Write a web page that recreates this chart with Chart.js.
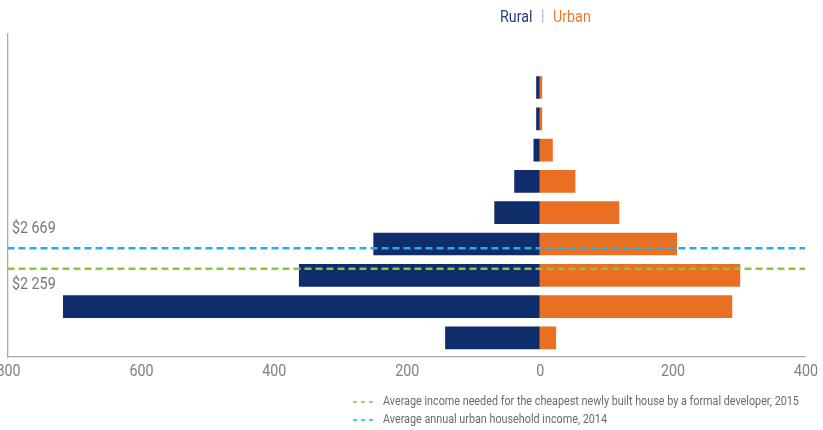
<!DOCTYPE html>
<html>
<head>
<meta charset="utf-8">
<script src="https://cdn.jsdelivr.net/npm/chart.js@4/dist/chart.umd.min.js"></script>
<style>
  html, body { margin: 0; padding: 0; background: #fff; }
  #wrap { width: 823px; height: 430px; position: relative; }
</style>
</head>
<body>
<div id="wrap"><canvas id="pyramid"></canvas></div>
<script>
// Households per income bracket, highest bracket first
const brackets = [0, 1, 2, 3, 4, 5, 6, 7, 8];
const ruralCounts = [4, 4, 8, 37, 67, 249, 361, 716, 141];
const urbanCounts = [4, 4, 20, 54, 120, 207, 302, 290, 25];
const xTicks = [-800, -600, -400, -200, 0, 200, 400];

// Income reference lines: label and position on the bracket axis
const refLabels = ['$2 669', '$2 259'];
const refPos = [5.137, 5.789];
const refColors = ['#1cb0ee', '#8cc63f'];
const refLegend = [
  'Average annual urban household income, 2014',
  'Average income needed for the cheapest newly built house by a formal developer, 2015'
];

const RURAL = '#102d6b';
const URBAN = '#e96f22';
const FONT = "'Roboto', sans-serif";
const SQUEEZE = 0.84; // narrow lettering

function refLine(i) {
  return {
    type: 'line',
    data: [{ x: xTicks[0], y: refPos[i] }, { x: xTicks[xTicks.length - 1], y: refPos[i] }],
    borderColor: refColors[i],
    borderWidth: 2.4,
    borderDash: [7, 4],
    pointRadius: 0,
    fill: false,
    order: 0
  };
}

function narrowText(ctx, text, x, y, sx) {
  ctx.save();
  ctx.translate(x, y);
  ctx.scale(sx, 1);
  ctx.fillText(text, 0, 0);
  ctx.restore();
}

// Text the axes don't provide: tick labels, legend, line labels, key
const annotations = {
  id: 'annotations',
  afterDraw(chart) {
    const ctx = chart.ctx;
    const xs = chart.scales.x;
    const ys = chart.scales.y;
    ctx.save();
    ctx.textBaseline = 'middle';

    // x tick labels
    ctx.font = '17px ' + FONT;
    ctx.fillStyle = '#808080';
    ctx.textAlign = 'center';
    xs.ticks.forEach(t => {
      narrowText(ctx, String(Math.abs(t.value)), xs.getPixelForValue(t.value) + 1, xs.bottom + 15, SQUEEZE);
    });

    // top legend
    ctx.textAlign = 'left';
    ctx.fillStyle = '#223d7b';
    narrowText(ctx, 'Rural', 500, 18, SQUEEZE);
    ctx.fillStyle = '#b5b5b5';
    narrowText(ctx, '|', 541, 17, SQUEEZE);
    ctx.fillStyle = '#f07a2c';
    narrowText(ctx, 'Urban', 553, 18, SQUEEZE);

    // labels on the reference lines
    ctx.fillStyle = '#777';
    narrowText(ctx, refLabels[0], 12, ys.getPixelForValue(refPos[0]) - 20, SQUEEZE);
    narrowText(ctx, refLabels[1], 12, ys.getPixelForValue(refPos[1]) + 16, SQUEEZE);

    // key below the axis, green first
    ctx.font = '13px ' + FONT;
    [[1, 402], [0, 420]].forEach(([i, ty]) => {
      ctx.strokeStyle = refColors[i];
      ctx.lineWidth = 1.6;
      ctx.setLineDash([4, 4]);
      ctx.beginPath();
      ctx.moveTo(353, ty);
      ctx.lineTo(375, ty);
      ctx.stroke();
      ctx.fillStyle = '#6b6b6b';
      narrowText(ctx, refLegend[i], 383, ty, 0.83);
    });
    ctx.restore();
  }
};

new Chart(document.getElementById('pyramid'), {
  data: {
    datasets: [
      refLine(0),
      refLine(1),
      {
        type: 'bar',
        label: 'Rural',
        indexAxis: 'y',
        data: brackets.map((b, i) => ({ x: -ruralCounts[i], y: b })),
        backgroundColor: RURAL,
        barThickness: 22,
        grouped: false,
        order: 1
      },
      {
        type: 'bar',
        label: 'Urban',
        indexAxis: 'y',
        data: brackets.map((b, i) => ({ x: urbanCounts[i], y: b })),
        backgroundColor: URBAN,
        barThickness: 22,
        grouped: false,
        order: 1
      }
    ]
  },
  options: {
    responsive: true,
    maintainAspectRatio: false,
    animation: false,
    layout: {
      autoPadding: false,
      padding: { left: 7.5, right: 18, top: 34, bottom: 73 }
    },
    plugins: {
      legend: { display: false },
      tooltip: { enabled: false }
    },
    scales: {
      x: {
        type: 'linear',
        min: xTicks[0],
        max: xTicks[xTicks.length - 1],
        afterBuildTicks(scale) {
          scale.ticks = xTicks.map(v => ({ value: v }));
        },
        grid: { display: false, drawTicks: false },
        border: { display: true, color: '#aaa', width: 1.3 },
        ticks: { display: false }
      },
      y: {
        type: 'linear',
        reverse: true,
        offset: false,
        min: -1.709,
        max: 8.61,
        grid: { display: false, drawTicks: false, offset: false },
        border: { display: true, color: '#aaa', width: 1.3 },
        ticks: { display: false }
      }
    }
  },
  plugins: [annotations]
});
</script>
</body>
</html>
